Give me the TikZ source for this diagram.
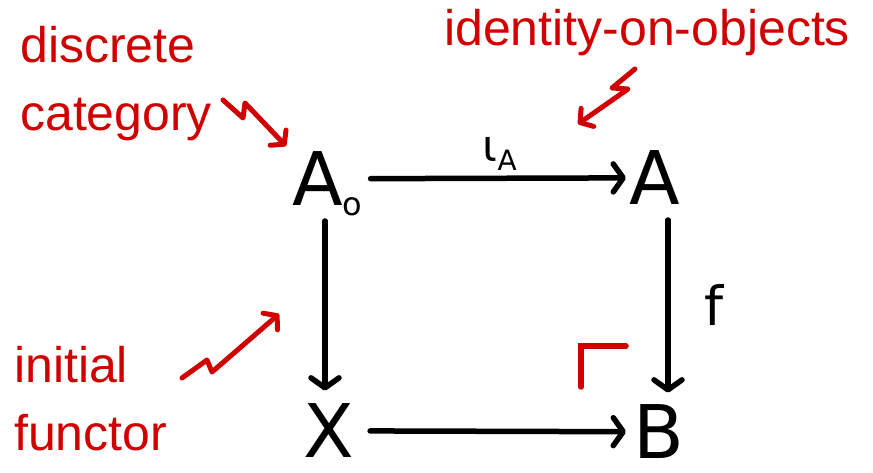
\documentclass[tikz,border=0pt]{standalone}
\usepackage{fontspec}
\setmainfont{DejaVu Sans}
\newfontfamily\notefont{Liberation Sans}
\usetikzlibrary{arrows.meta}
\definecolor{annot}{RGB}{208,0,0}
\begin{document}
\begin{tikzpicture}[x=1pt,y=-1pt,
  obj/.style={font=\fontsize{74}{74}\selectfont, inner sep=0pt,
              text height=54pt, text depth=0pt, anchor=south west},
  note/.style={text=annot, font=\notefont\fontsize{50}{68}\selectfont, align=left,
               inner sep=0pt, anchor=north west},
  mor/.style={line width=5.5pt, line cap=round,
              -{Straight Barb[length=10pt,width=28pt,line cap=round,line join=round]}},
  squig/.style={draw=annot, line width=5pt, line cap=round, line join=round,
              -{Straight Barb[length=9pt,width=22pt,line cap=round,line join=round]}},
]
\useasboundingbox (0,0) rectangle (873,473);

% objects of the square (south west = baseline)
\node[obj] (A0) at (292,206) {A\raisebox{-10pt}{\fontsize{32}{32}\selectfont o}};
\node[obj] (A)  at (629,205) {A};
\node[obj] (X)  at (303,458) {X};
\node[obj] (B)  at (633,459) {B};

% morphisms
\draw[mor, shorten <=8pt, shorten >=3pt] (A0) -- (A)
  node[midway, above=2pt, xshift=4pt, font=\fontsize{44}{44}\selectfont] (iota)
  {ι\raisebox{-9pt}{\fontsize{28}{28}\selectfont A}};
\draw[mor, shorten <=15pt, shorten >=13pt] (A0.south -| 325,0) -- (X.north -| 325,0);
\draw[mor, shorten <=15pt, shorten >=12pt] (A.south -| 668,0) -- (B.north -| 668,0)
  node[midway, right=30pt, font=\fontsize{54}{54}\selectfont] (f) {f};
\draw[mor, shorten <=16pt, shorten >=7pt] (X) -- (B);

% pullback corner
\draw[annot, line width=5.5pt, line cap=round, line join=miter]
  (581,387) -- (581,346) -- (626,346);

% annotations
\node[note] (disc) at (20,26) {discrete\\category};
\node[note] (ido)  at (444,9) {identity-on-objects};
\node[note] (init) at (14,346) {initial\\functor};

\coordinate (s1) at (223,100);
\coordinate (t1) at (286,146);
\draw[squig] (s1) -- (243,118) -- (245,103) -- (t1);

\coordinate (s2) at (635,69);
\coordinate (t2) at (578,124);
\draw[squig] (s2) -- (612,88) -- (628,89) -- (t2);

\coordinate (s3) at (182,378);
\coordinate (t3) at (279,314);
\draw[squig] (s3) -- (207,360) -- (212,372) -- (t3);
\end{tikzpicture}
\end{document}
